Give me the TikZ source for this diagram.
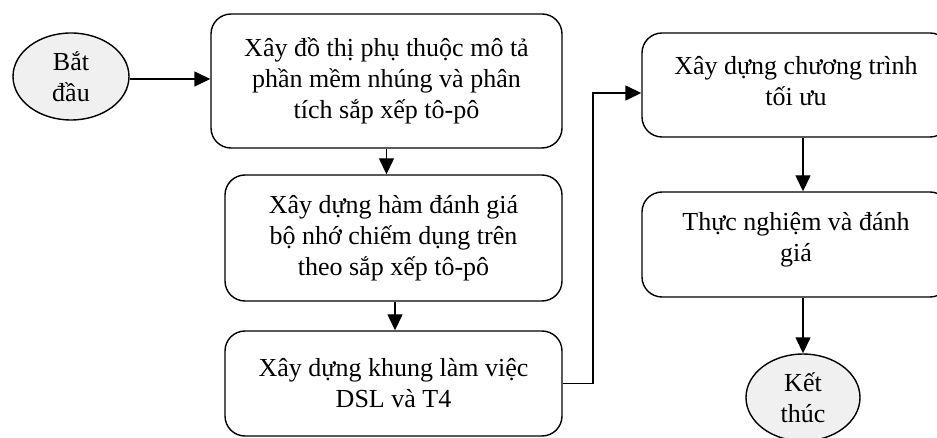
\documentclass[tikz,border=0pt]{standalone}
\usepackage{fontspec}
\setmainfont{Liberation Serif}
\usetikzlibrary{arrows.meta,shapes.geometric}
\definecolor{termgray}{HTML}{F0F0F0}
\begin{document}
\begin{tikzpicture}[x=1pt,y=-1pt,
  txt/.style={align=center, font=\fontsize{26}{31}\selectfont, inner sep=0pt},
  stepbox/.style={txt, draw, line width=1.4pt, rounded corners=20pt},
  term/.style={txt, draw, ellipse, fill=termgray, line width=1.4pt},
  flow/.style={line width=1.4pt, -{Triangle[length=16pt,width=15pt]}}]
  \useasboundingbox (0,0) rectangle (937,438);

  % terminals
  \node[term, minimum width=116pt, minimum height=87pt] (start) at (71,76.5) {Bắt\\đầu};
  \node[term, minimum width=114pt, minimum height=87pt] (stop) at (803,397.5) {Kết\\thúc};

  % left column
  \node[stepbox, minimum width=351pt, minimum height=134pt] (b1) at (386.5,81)
    {Xây đồ thị phụ thuộc mô tả\\phần mềm nhúng và phân\\tích sắp xếp tô-pô};
  \node[stepbox, minimum width=337pt, minimum height=126pt] (b2) at (393.5,238)
    {Xây dựng hàm đánh giá\\bộ nhớ chiếm dụng trên\\theo sắp xếp tô-pô};
  \node[stepbox, minimum width=337pt, minimum height=105pt] (b3) at (393.5,383.5)
    {Xây dựng khung làm việc\\DSL và T4};

  % right column (boxes run past the right edge)
  \node[stepbox, minimum width=308pt, minimum height=104pt] (b4) at (796,85) {};
  \node[txt] (t4) at (796,81) {Xây dựng chương trình\\tối ưu};
  \node[stepbox, minimum width=308pt, minimum height=105pt] (b5) at (796,244.5) {};
  \node[txt] (t5) at (796,240) {Thực nghiệm và đánh\\giá};

  % connectors
  \draw[flow] (start.east |- 0,79) -- (b1.west |- 0,79);
  \draw[flow] (b1.south) -- (b1.south |- b2.north);
  \draw[flow] ([xshift=1.5pt]b2.south) -- ([xshift=1.5pt]b2.south |- b3.north);
  \coordinate (bend) at (593,93);
  \draw[flow] (b3.east) -| (bend) -- (bend -| b4.west);
  \draw[flow] (b4.south -| stop) -- (b5.north -| stop);
  \draw[flow] (b5.south -| stop) -- (stop.north);
\end{tikzpicture}
\end{document}
